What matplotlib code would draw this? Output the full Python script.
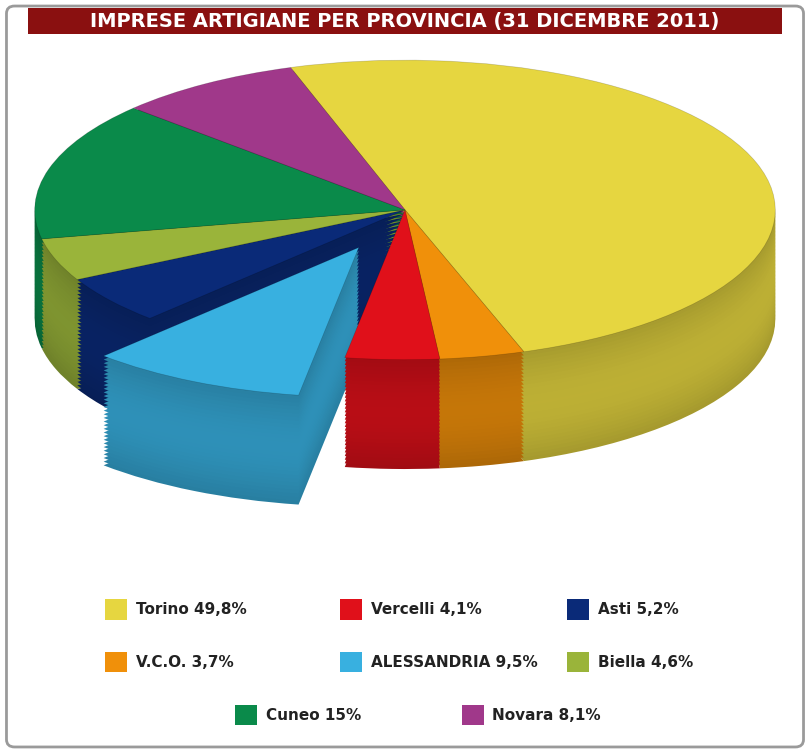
import matplotlib.pyplot as plt
import matplotlib.colors as mc
from matplotlib.patches import FancyBboxPatch, Rectangle
import numpy as np

labels = ["Torino", "V.C.O.", "Vercelli", "ALESSANDRIA", "Asti", "Biella", "Cuneo", "Novara"]
values = [49.8, 3.7, 4.1, 9.5, 5.2, 4.6, 15.0, 8.1]
pct = ["49,8%", "3,7%", "4,1%", "9,5%", "5,2%", "4,6%", "15%", "8,1%"]
colors = ["#e6d640", "#f0900a", "#e0101a", "#38b0e0", "#0a2a78", "#9ab43a", "#0a8a4a", "#a0388a"]
explode = [0, 0, 0, 0.28, 0, 0, 0, 0]

fig = plt.figure(figsize=(8.1, 7.53), dpi=100)
fig.patches.append(FancyBboxPatch((0.008, 0.008), 0.984, 0.984, boxstyle="round,pad=0,rounding_size=0.01",
                                  transform=fig.transFigure, fc="white", ec="#9a9a9a", lw=2, zorder=-10))
fig.patches.append(Rectangle((0.035, 0.955), 0.93, 0.035, transform=fig.transFigure, fc="#8a1010", ec="none"))
fig.text(0.5, 0.972, "IMPRESE ARTIGIANE PER PROVINCIA (31 DICEMBRE 2011)", ha="center", va="center",
         color="white", fontsize=14, fontweight="bold")

ax = fig.add_axes([0.02, 0.22, 0.96, 0.73])
ax.patch.set_visible(False)

depth = 0.73
n = 30
for i in range(n, 0, -1):
    dy = -depth * i / n
    f = 0.72 + 0.1 * np.sin(np.pi * i / n)
    cols = [tuple(np.array(mc.to_rgb(c)) * f) for c in colors]
    ax.pie(values, colors=cols, startangle=108, counterclock=False, explode=explode,
           center=(0, dy), radius=1, frame=True, wedgeprops=dict(linewidth=0))
ax.pie(values, colors=colors, startangle=108, counterclock=False, explode=explode,
       center=(0, 0), radius=1, frame=True, wedgeprops=dict(linewidth=0.5, edgecolor="#00000030"))
ax.set_aspect("auto")
ax.set_xlim(-1.05, 1.05)
ax.set_ylim(-2.52, 1.15)
ax.axis("off")

pos = [(0.13, 0.19), (0.42, 0.19), (0.70, 0.19),
       (0.13, 0.12), (0.42, 0.12), (0.70, 0.12),
       (0.29, 0.05), (0.57, 0.05)]
order = [0, 2, 4, 1, 3, 5, 6, 7]
for (x, y), k in zip(pos, order):
    fig.patches.append(Rectangle((x, y - 0.013), 0.027, 0.027, transform=fig.transFigure,
                                 fc=colors[k], ec="none"))
    fig.text(x + 0.038, y, f"{labels[k]} {pct[k]}", va="center", fontsize=11, fontweight="bold", color="#222222")

fig.savefig("out.png", dpi=100)
